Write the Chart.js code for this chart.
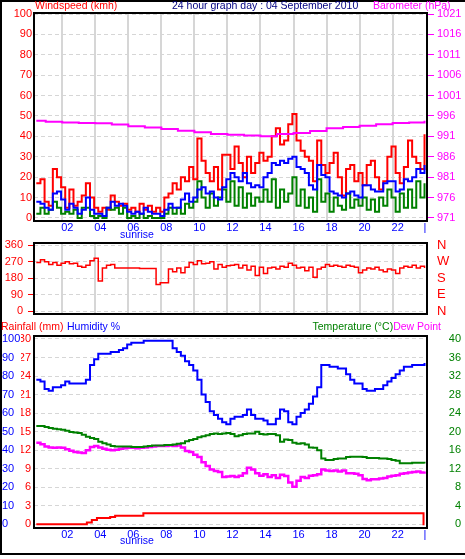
<!DOCTYPE html>
<html>
<head>
<meta charset="utf-8">
<title>24 hour graph</title>
<script src="https://cdn.jsdelivr.net/npm/chart.js@4.4.0/dist/chart.umd.min.js"></script>
<style>
    html, body { margin: 0; padding: 0; background: #fff; }
    #wrap { position: relative; width: 465px; height: 559px; overflow: hidden; background: #fff; }
    #wrap canvas { position: absolute; left: 0; top: 0; }
</style>
</head>
<body>
<div id="wrap">
    <canvas id="windChart" width="465" height="559"></canvas>
    <canvas id="dirChart" width="465" height="559"></canvas>
    <canvas id="climateChart" width="465" height="559"></canvas>
</div>
<script>
// samples every 15 minutes, first one at 00:26
var startHour = 0.43;
var stepHour = 0.25;

var gust = [
    17, 19, 8, 6, 24, 20, 15, 5, 14, 6,
    8, 11, 17, 10, 5, 3, 5, 4, 11, 8,
    6, 7, 4, 5, 3, 7, 4, 6, 3, 5,
    3, 10, 12, 17, 14, 20, 18, 25, 19, 39,
    28, 22, 18, 25, 14, 31, 31, 24, 35, 27,
    20, 30, 22, 27, 32, 28, 30, 40, 44, 36,
    38, 46, 51, 38, 33, 30, 28, 18, 38, 26,
    22, 27, 32, 20, 11, 24, 26, 18, 22, 16,
    26, 28, 20, 14, 18, 30, 35, 22, 17, 25,
    38, 30, 27, 24, 41
];
var avgWind = [
    8, 7, 5, 4, 12, 13, 9, 4, 7, 5,
    2, 4, 10, 4, 2, 2, 1, 5, 8, 6,
    7, 6, 3, 2, 3, 2, 5, 3, 2, 2,
    1, 4, 7, 5, 5, 9, 12, 8, 10, 14,
    15, 12, 13, 10, 9, 15, 19, 22, 20, 18,
    22, 17, 15, 16, 15, 20, 22, 27, 26, 28,
    27, 29, 30, 25, 24, 22, 16, 14, 26, 21,
    20, 13, 12, 11, 10, 12, 13, 11, 10, 16,
    16, 14, 13, 13, 17, 18, 18, 13, 14, 19,
    18, 20, 24, 22, 26
];
var windSpeed = [
    2, 5, 2, 4, 8, 5, 2, 3, 2, 4,
    0, 5, 5, 1, 0, 1, 0, 5, 4, 5,
    2, 5, 0, 1, 0, 2, 0, 1, 0, 0,
    0, 2, 5, 2, 5, 2, 7, 5, 8, 18,
    10, 5, 12, 6, 10, 14, 8, 18, 6, 15,
    5, 12, 6, 10, 8, 14, 8, 19, 5, 14,
    8, 12, 20, 6, 14, 5, 10, 3, 19, 8,
    12, 3, 10, 6, 4, 12, 5, 9, 6, 10,
    4, 9, 3, 10, 6, 14, 10, 3, 12, 5,
    14, 5, 18, 10, 17
];
var windDir = [
    265, 280, 270, 255, 265, 250, 262, 270, 258, 262,
    245, 240, 250, 275, 288, 165, 235, 250, 255, 235,
    235, 235, 235, 235, 235, 233, 233, 233, 233, 145,
    155, 155, 230, 215, 235, 210, 240, 265, 255, 275,
    258, 262, 270, 230, 255, 240, 248, 250, 255, 235,
    250, 225, 245, 195, 240, 205, 235, 240, 230, 245,
    240, 262, 250, 235, 240, 220, 240, 185, 230, 240,
    255, 245, 250, 245, 240, 250, 245, 240, 210, 225,
    235, 230, 240, 225, 215, 230, 225, 205, 235, 245,
    240, 250, 235, 245, 235
];
var humidity = [
    78, 77, 73, 72, 74, 74, 75, 77, 76, 76,
    76, 76, 78, 86, 89, 92, 92, 92, 93, 93,
    94, 95, 97, 98, 98, 98, 99, 99, 99, 99,
    99, 99, 99, 95, 93, 91, 88, 86, 83, 78,
    70, 66, 61, 59, 57, 55, 54, 57, 58, 58,
    59, 62, 59, 57, 57, 56, 54, 54, 57, 62,
    61, 55, 54, 58, 60, 62, 65, 69, 74, 86,
    86, 85, 85, 84, 84, 81, 78, 76, 76, 73,
    72, 72, 73, 73, 75, 77, 79, 81, 83, 85,
    85, 86, 86, 86, 87
];
var temperature = [
    21.2, 21.2, 21.0, 20.8, 20.6, 20.5, 20.4, 20.2, 19.9, 19.8,
    19.7, 19.3, 18.9, 18.6, 18.4, 17.8, 17.5, 17.2, 16.9, 16.8,
    16.8, 16.8, 16.8, 16.7, 16.7, 16.7, 16.8, 16.9, 17.0, 17.0,
    17.0, 17.1, 17.1, 17.2, 17.4, 17.5, 17.9, 18.2, 18.4, 18.8,
    19.0, 19.2, 19.5, 19.6, 19.5, 19.6, 19.7, 19.5, 19.0, 19.2,
    19.5, 19.6, 19.6, 20.0, 19.5, 19.4, 19.5, 19.5, 19.2, 17.8,
    18.3, 18.2, 17.6, 17.4, 17.5, 17.2, 16.6, 16.5, 16.0, 14.2,
    13.9, 13.9, 14.1, 14.2, 14.2, 14.5, 14.6, 14.6, 14.6, 14.5,
    14.3, 14.3, 14.3, 14.2, 14.2, 14.1, 13.9, 13.7, 13.2, 13.2,
    13.2, 13.3, 13.3, 13.3, 13.1
];
var dewPoint = [
    17.6, 17.3, 16.8, 16.6, 16.5, 16.6, 16.5, 16.2, 15.9, 15.6,
    15.5, 15.4, 16.0, 16.7, 16.9, 16.6, 16.3, 16.1, 16.0, 16.1,
    16.3, 16.4, 16.5, 16.5, 16.4, 16.5, 16.6, 16.7, 16.8, 16.9,
    16.9, 16.9, 17.0, 16.9, 17.0, 16.6, 15.8, 15.6, 15.0, 14.5,
    13.4, 12.6, 11.8, 11.5, 11.3, 10.2, 10.3, 10.4, 10.2, 10.5,
    11.0, 12.2, 11.8, 11.0, 10.5, 10.8, 10.2, 10.6, 10.0, 10.7,
    10.4, 9.0, 8.1, 9.4, 10.2, 10.0, 10.5, 10.6, 10.8, 11.8,
    11.6, 11.5, 11.6, 11.4, 11.6, 11.0, 11.0, 10.9, 10.6, 9.8,
    9.5, 9.7, 9.7, 9.9, 10.0, 10.3, 10.5, 10.6, 10.9, 11.0,
    11.2, 11.3, 11.4, 11.2, 11.4
];

var baroHours = [0.43, 1, 2, 3, 4, 5, 6, 7, 8, 9, 10, 11, 12, 13, 14, 15, 16, 17, 18, 19, 20, 21, 22, 23, 23.93];
var baroValues = [994.8, 994.6, 994.4, 994.3, 994.2, 993.9, 993.5, 993.2, 992.8, 992.4, 992.0, 991.6, 991.4, 991.2, 991.0, 991.6, 991.8, 992.3, 993.0, 993.3, 993.6, 994.0, 994.3, 994.4, 994.8];

var rainHours = [0.43, 3.49, 3.79, 4.10, 4.90, 5.20, 6.91, 23.87, 23.93];
var rainValues = [0, 0.3, 0.7, 1.0, 1.2, 1.4, 1.8, 0, 0];

var hourTicks = [2, 4, 6, 8, 10, 12, 14, 16, 18, 20, 22, 23.65];
var hourLabels = ['02', '04', '06', '08', '10', '12', '14', '16', '18', '20', '22', '|'];
var windTicks = [0, 10, 20, 30, 40, 50, 60, 70, 80, 90, 100];
var baroTicks = [971, 976, 981, 986, 991, 996, 1001, 1006, 1011, 1016, 1021];
var dirTicks = [0, 90, 180, 270, 360];
var compassLabels = ['N', 'E', 'S', 'W', 'N'];
var humTicks = [0, 10, 20, 30, 40, 50, 60, 70, 80, 90, 100];
var rainTicks = [0, 3, 6, 9, 12, 15, 18, 21, 24, 27, 30];
var tempTicks = [0, 4, 8, 12, 16, 20, 24, 28, 32, 36, 40];

var RED = '#ff0000', BLUE = '#0000ff', GREEN = '#008000', MAGENTA = '#ff00ff', NAVY = '#000080';
var GRID = '#d6d6d6';
var FONT = '"Liberation Sans", Arial, sans-serif';

Chart.defaults.font.family = FONT;
Chart.defaults.font.size = 11;

var sampleHours = gust.map(function (v, i) { return startHour + i * stepHour; });

function series(values) {
    return values.map(function (v, i) { return { x: sampleHours[i], y: v }; });
}

function pairs(xs, ys) {
    return xs.map(function (x, i) { return { x: x, y: ys[i] }; });
}

function fixTicks(list) {
    return function (scale) {
        scale.ticks = list.map(function (v) { return { value: v }; });
    };
}

function fixWidth(w) {
    return function (scale) { scale.width = w; };
}

function fixHeight(h) {
    return function (scale) { scale.height = h; };
}

function plain(v) {
    return String(v);
}

function text(ctx, str, x, y, color, align) {
    ctx.save();
    ctx.font = '10.5px ' + FONT;
    ctx.fillStyle = color;
    ctx.textAlign = align || 'left';
    ctx.textBaseline = 'middle';
    ctx.fillText(str, x, y);
    ctx.restore();
}

var framePlugin = {
    id: 'frame',
    afterDatasetsDraw: function (chart) {
        var a = chart.chartArea, ctx = chart.ctx;
        ctx.save();
        ctx.strokeStyle = '#000';
        ctx.lineWidth = 2;
        ctx.strokeRect(a.left, a.top, a.right - a.left, a.bottom - a.top);
        ctx.restore();
    }
};

function hourAxis(o) {
    return {
        type: 'linear',
        min: 0.29,
        max: 24.08,
        afterBuildTicks: fixTicks(hourTicks),
        afterFit: fixHeight(o.height),
        grid: {
            display: o.grid,
            color: function (c) { return c.tick && c.tick.value === 23.65 ? 'rgba(0,0,0,0)' : GRID; },
            lineWidth: 2,
            drawTicks: false
        },
        border: { display: false },
        ticks: {
            display: o.labels,
            color: BLUE,
            padding: 0,
            labelOffset: 5,
            autoSkip: false,
            maxRotation: 0,
            callback: function (v, i) { return hourLabels[i]; }
        }
    };
}

var common = {
    responsive: false,
    devicePixelRatio: 1,
    animation: false,
    events: [],
    elements: { point: { radius: 0 }, line: { borderWidth: 2, stepped: true, tension: 0 } },
    plugins: { legend: { display: false }, tooltip: { enabled: false } }
};

function opts(extra) {
    return Object.assign({}, common, extra);
}

// ---- windspeed + barometer ----
new Chart(document.getElementById('windChart'), {
    type: 'line',
    data: {
        datasets: [
            { data: pairs(baroHours, baroValues), yAxisID: 'baro', borderColor: MAGENTA, order: 0 },
            { data: series(avgWind), yAxisID: 'wind', borderColor: BLUE, order: 1 },
            { data: series(windSpeed), yAxisID: 'wind', borderColor: GREEN, order: 2 },
            { data: series(gust), yAxisID: 'wind', borderColor: RED, order: 3 }
        ]
    },
    options: opts({
        layout: { padding: { left: 0, right: 0, top: 13, bottom: 324 } },
        scales: {
            x: hourAxis({ height: 14, grid: true, labels: true }),
            wind: {
                position: 'left',
                min: -1.5,
                max: 100.5,
                afterBuildTicks: fixTicks(windTicks),
                afterFit: fixWidth(34),
                grid: { color: GRID, lineWidth: 1, drawTicks: false },
                border: { display: false, dash: [4, 3] },
                ticks: { color: RED, padding: 2, autoSkip: false, callback: plain }
            },
            baro: {
                position: 'right',
                min: 970.25,
                max: 1021.25,
                afterBuildTicks: fixTicks(baroTicks),
                afterFit: fixWidth(38),
                grid: { drawOnChartArea: false, drawTicks: true, tickLength: 7, tickColor: MAGENTA, tickWidth: 1 },
                border: { display: false },
                ticks: { color: MAGENTA, padding: 3, autoSkip: false, callback: plain }
            }
        }
    }),
    plugins: [framePlugin, {
        id: 'windText',
        beforeDraw: function (chart) {
            var ctx = chart.ctx;
            ctx.save();
            ctx.fillStyle = '#fff';
            ctx.fillRect(0, 0, 465, 559);
            ctx.strokeStyle = '#000';
            ctx.lineWidth = 2;
            ctx.beginPath();
            ctx.moveTo(465, 1);
            ctx.lineTo(1, 1);
            ctx.lineTo(1, 554);
            ctx.lineTo(465, 554);
            ctx.stroke();
            ctx.restore();
        },
        afterDraw: function (chart) {
            var ctx = chart.ctx;
            text(ctx, 'Windspeed (kmh)', 35, 6, RED);
            text(ctx, '24 hour graph day : 04 September 2010', 172, 6, NAVY);
            text(ctx, 'Barometer (hPa)', 373, 6, MAGENTA);
            text(ctx, 'sunrise', 137, 235, BLUE, 'center');
        }
    }]
});

// ---- wind direction ----
new Chart(document.getElementById('dirChart'), {
    type: 'line',
    data: {
        datasets: [
            { data: series(windDir), yAxisID: 'dir', borderColor: RED, borderWidth: 1.5 }
        ]
    },
    options: opts({
        layout: { padding: { left: 0, right: 0, top: 243, bottom: 245 } },
        scales: {
            x: hourAxis({ height: 0, grid: true, labels: false }),
            dir: {
                position: 'left',
                min: -16,
                max: 372,
                afterBuildTicks: fixTicks(dirTicks),
                afterFit: fixWidth(34),
                grid: { color: GRID, lineWidth: 1, drawTicks: true, tickLength: 6, tickColor: RED, tickWidth: 1 },
                border: { display: false, dash: [4, 3] },
                ticks: { color: RED, padding: 5, autoSkip: false, callback: plain }
            },
            compass: {
                position: 'right',
                min: -16,
                max: 372,
                afterBuildTicks: fixTicks(dirTicks),
                afterFit: fixWidth(38),
                grid: { drawOnChartArea: false, drawTicks: false },
                border: { display: false },
                ticks: {
                    color: RED,
                    padding: 10,
                    autoSkip: false,
                    font: { size: 13 },
                    callback: function (v, i) { return compassLabels[i]; }
                }
            }
        }
    }),
    plugins: [framePlugin]
});

// ---- rainfall, humidity, temperature, dew point ----
new Chart(document.getElementById('climateChart'), {
    type: 'line',
    data: {
        datasets: [
            { data: pairs(rainHours, rainValues), yAxisID: 'rain', borderColor: RED, order: 0 },
            { data: series(temperature), yAxisID: 'temp', borderColor: GREEN, order: 1 },
            { data: series(dewPoint), yAxisID: 'temp', borderColor: MAGENTA, borderWidth: 2.5, order: 2 },
            { data: series(humidity), yAxisID: 'hum', borderColor: BLUE, order: 3 }
        ]
    },
    options: opts({
        layout: { padding: { left: 2, right: 4, top: 336, bottom: 17 } },
        scales: {
            x: hourAxis({ height: 14, grid: false, labels: true }),
            hum: {
                position: 'left',
                weight: 1,
                min: -2,
                max: 101.6,
                afterBuildTicks: fixTicks(humTicks),
                afterFit: fixWidth(19),
                grid: { color: GRID, lineWidth: 1, drawTicks: false },
                border: { display: false, dash: [4, 3] },
                ticks: { color: BLUE, crossAlign: 'far', autoSkip: false, callback: plain }
            },
            rain: {
                position: 'left',
                weight: 0,
                min: -0.6,
                max: 30.48,
                afterBuildTicks: fixTicks(rainTicks),
                afterFit: fixWidth(13),
                grid: { drawOnChartArea: false, drawTicks: false },
                border: { display: false },
                ticks: { color: RED, padding: 3, autoSkip: false, callback: plain }
            },
            temp: {
                position: 'right',
                min: -0.8,
                max: 40.64,
                afterBuildTicks: fixTicks(tempTicks),
                afterFit: fixWidth(34),
                grid: { drawOnChartArea: false, drawTicks: false },
                border: { display: false },
                ticks: { color: GREEN, crossAlign: 'far', autoSkip: false, callback: plain }
            }
        }
    }),
    plugins: [framePlugin, {
        id: 'climateText',
        afterDraw: function (chart) {
            var ctx = chart.ctx;
            text(ctx, 'Rainfall (mm)', 1, 327, RED);
            text(ctx, 'Humidity %', 67, 327, BLUE);
            text(ctx, 'Dew Point', 441, 327, MAGENTA, 'right');
            ctx.save();
            ctx.font = '10.5px ' + FONT;
            var w = ctx.measureText('Dew Point').width;
            ctx.restore();
            text(ctx, 'Temperature (\u00b0C)', 441 - w, 327, GREEN, 'right');
            text(ctx, 'sunrise', 137, 541, BLUE, 'center');
        }
    }]
});
</script>
</body>
</html>
